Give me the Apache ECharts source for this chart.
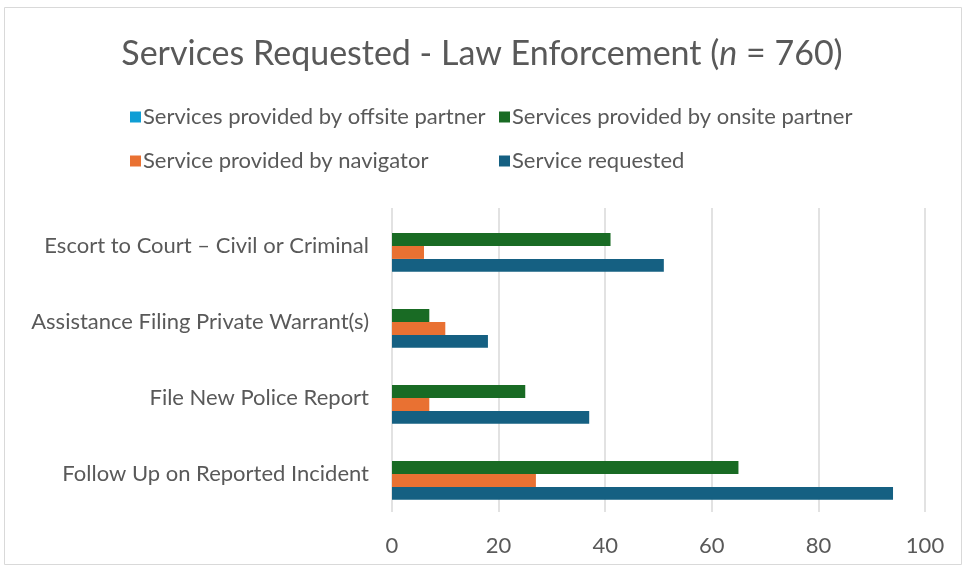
<!DOCTYPE html>
<html>
<head>
<meta charset="utf-8">
<script src="https://cdn.jsdelivr.net/npm/echarts@6/dist/echarts.min.js"></script>
<style>
  html, body { margin: 0; padding: 0; background: #fff; }
  #chart { width: 964px; height: 571px; }
</style>
</head>
<body>
<div id="chart"></div>
<script>
// categories, bottom to top
const categories = [
  "Follow Up on Reported Incident",
  "File New Police Report",
  "Assistance Filing Private Warrant(s)",
  "Escort to Court – Civil or Criminal"
];
const requested = [94, 37, 18, 51];
const navigator_ = [27, 7, 10, 6];
const onsite = [65, 25, 7, 41];
const offsite = [0, 0, 0, 0];
const xTicks = [0, 20, 40, 60, 80, 100];

const FONT = "Lato";
const TXT = "#595959";

const chart = echarts.init(document.getElementById("chart"));

const legendCommon = {
  orient: "vertical",
  top: 106,
  padding: 0,
  itemWidth: 11,
  itemHeight: 11,
  itemGap: 22,
  icon: "rect",
  textStyle: { fontFamily: FONT, fontSize: 22, color: TXT, padding: [0, 0, 0, -3] }
};

const options = {
  animation: false,
  textStyle: { fontFamily: FONT },
  title: {
    text: "Services Requested - Law Enforcement ({i|n} = 760)",
    left: "center",
    top: 32,
    textStyle: {
      fontFamily: FONT,
      fontSize: 34,
      fontWeight: "normal",
      color: TXT,
      rich: {
        i: { fontFamily: FONT, fontSize: 34, fontStyle: "italic", color: TXT }
      }
    }
  },
  // two vertical legends so the columns line up like the reference
  legend: [
    Object.assign({}, legendCommon, {
      left: 130,
      data: ["Services provided by offsite partner", "Service provided by navigator"]
    }),
    Object.assign({}, legendCommon, {
      left: 499,
      data: ["Services provided by onsite partner", "Service requested"]
    })
  ],
  grid: {
    left: 392,
    right: 39,
    top: 208,
    bottom: 59,
    containLabel: false
  },
  xAxis: {
    type: "value",
    min: 0,
    max: 100,
    interval: 20,
    axisLine: { show: false },
    axisTick: { show: false },
    axisLabel: {
      color: TXT,
      fontSize: 22,
      fontFamily: FONT,
      margin: 23,
      formatter: (v) => (xTicks.includes(v) ? String(v) : "")
    },
    splitLine: { lineStyle: { color: "#d9d9d9", width: 1.5 } }
  },
  yAxis: {
    type: "category",
    data: categories,
    axisLine: { show: false },
    axisTick: { show: false },
    axisLabel: { color: TXT, fontSize: 22, fontFamily: FONT, margin: 23 }
  },
  series: [
    {
      name: "Services provided by offsite partner",
      type: "bar",
      data: offsite,
      barGap: "0%",
      barCategoryGap: "32%",
      itemStyle: { color: "#0F9ED5" }
    },
    {
      name: "Services provided by onsite partner",
      type: "bar",
      data: onsite,
      itemStyle: { color: "#196B24" }
    },
    {
      name: "Service provided by navigator",
      type: "bar",
      data: navigator_,
      itemStyle: { color: "#E97132" }
    },
    {
      name: "Service requested",
      type: "bar",
      data: requested,
      itemStyle: { color: "#156082" }
    }
  ],
  graphic: [
    {
      type: "rect",
      shape: { x: 4.5, y: 7.5, width: 957, height: 557 },
      style: { fill: "none", stroke: "#d9d9d9", lineWidth: 1 },
      silent: true
    }
  ]
};

chart.setOption(options);
window.addEventListener("resize", () => chart.resize());
</script>
</body>
</html>
